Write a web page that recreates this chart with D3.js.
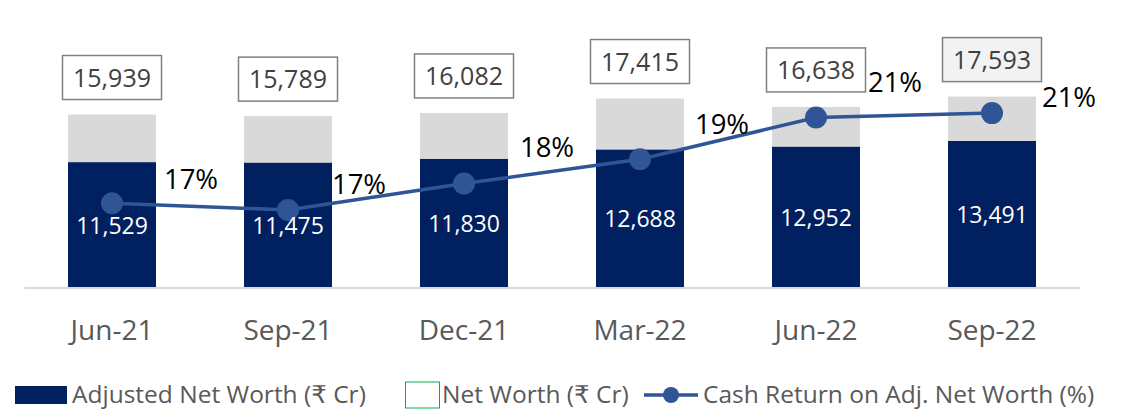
<!DOCTYPE html>
<html>
<head>
<meta charset="utf-8">
<script src="https://cdn.jsdelivr.net/npm/d3@7"></script>
<style>
  body { margin: 0; background: #fff; }
  svg { display: block; font-family: "Open Sans", "DejaVu Sans", sans-serif; }
</style>
</head>
<body>
<div id="vis"></div>
<script>
// chart data
var periods = ["Jun-21", "Sep-21", "Dec-21", "Mar-22", "Jun-22", "Sep-22"];
var adjNetWorth = [11529, 11475, 11830, 12688, 12952, 13491];
var netWorth = [15939, 15789, 16082, 17415, 16638, 17593];
var cashReturn = [17.2, 16.9, 18.1, 19.2, 21.1, 21.3];
var legendLabels = ["Adjusted Net Worth (\u20b9 Cr)", "Net Worth (\u20b9 Cr)", "Cash Return on Adj. Net Worth (%)"];

// hand placed % labels (offset from the point), like in the source
var pctNudge = [[79, -14], [71, -16], [83, -27], [82, -25], [79, -26], [77, -6]];

(function(){
  var width = 1122;
  var height = 413;
  var navy = "#002060", grey = "#d9d9d9", lineCol = "#2f5597";

  var svg = d3.select("#vis")
    .append("svg")
    .attr("width", width)
    .attr("height", height);

  var x = d3.scaleBand()
    .domain(periods)
    .range([24, 1080])
    .paddingInner(0.5)
    .paddingOuter(0.25);

  var y = d3.scaleLinear()
    .domain([0, 20000])
    .range([287, 287 - 20000 / 92.4]);

  // secondary axis (hidden) for the return line
  var y2 = d3.scaleLinear()
    .domain([10, 22])
    .range([361.7, 97.7]);

  var cx = function(i) { return x(periods[i]) + x.bandwidth() / 2; };

  // x axis
  var xAxis = d3.axisBottom(x).tickSize(0).tickSizeOuter(0);
  var gx = svg.append("g")
    .attr("transform", "translate(0,287.5)")
    .call(xAxis);
  gx.select(".domain").attr("stroke", grey).attr("stroke-width", 2);
  gx.selectAll("text")
    .attr("y", 52)
    .attr("dy", null)
    .attr("fill", "#595959")
    .style("font-size", "28px")
    .style("font-family", "'Open Sans', sans-serif");

  // bars: full net worth in grey, adjusted on top of it in navy
  svg.selectAll(".nw")
    .data(netWorth)
    .enter()
    .append("rect")
    .attr("class", "nw")
    .attr("x", function(d, i) { return x(periods[i]); })
    .attr("width", x.bandwidth())
    .attr("y", function(d) { return y(d); })
    .attr("height", function(d) { return y(0) - y(d); })
    .attr("fill", grey);

  svg.selectAll(".anw")
    .data(adjNetWorth)
    .enter()
    .append("rect")
    .attr("class", "anw")
    .attr("x", function(d, i) { return x(periods[i]); })
    .attr("width", x.bandwidth())
    .attr("y", function(d) { return y(d); })
    .attr("height", function(d) { return y(0) - y(d); })
    .attr("fill", navy);

  // return line
  var line = d3.line()
    .x(function(d, i) { return cx(i); })
    .y(function(d) { return y2(d); });

  svg.append("path")
    .datum(cashReturn)
    .attr("d", line)
    .attr("fill", "none")
    .attr("stroke", lineCol)
    .attr("stroke-width", 3.5);

  svg.selectAll(".dot")
    .data(cashReturn)
    .enter()
    .append("circle")
    .attr("class", "dot")
    .attr("cx", function(d, i) { return cx(i); })
    .attr("cy", function(d) { return y2(d); })
    .attr("r", 11)
    .attr("fill", lineCol);

  // boxed net worth labels
  var fmt = d3.format(",");
  var boxes = svg.selectAll(".box")
    .data(netWorth)
    .enter()
    .append("g")
    .attr("class", "box")
    .attr("transform", function(d, i) {
      return "translate(" + cx(i) + "," + (y(d) - 15 - 22) + ")";
    });
  boxes.append("rect")
    .attr("x", -49.5)
    .attr("y", -22)
    .attr("width", 99)
    .attr("height", 44)
    .attr("fill", function(d, i) { return i == netWorth.length - 1 ? "#f2f2f2" : "#fff"; })
    .attr("stroke", "#808080")
    .attr("stroke-width", 1.5);
  boxes.append("text")
    .attr("text-anchor", "middle")
    .attr("y", 9)
    .attr("fill", "#404040")
    .style("font-size", "25px")
    .text(function(d) { return fmt(d); });

  // adjusted net worth labels inside navy bars
  svg.selectAll(".inlbl")
    .data(adjNetWorth)
    .enter()
    .append("text")
    .attr("class", "inlbl")
    .attr("text-anchor", "middle")
    .attr("x", function(d, i) { return cx(i); })
    .attr("y", function(d) { return (y(d) + y(0)) / 2 + 9; })
    .attr("fill", "#fff")
    .style("font-size", "23px")
    .text(function(d) { return fmt(d); });

  // % labels
  svg.selectAll(".pct")
    .data(cashReturn)
    .enter()
    .append("text")
    .attr("class", "pct")
    .attr("text-anchor", "middle")
    .attr("x", function(d, i) { return cx(i) + pctNudge[i][0]; })
    .attr("y", function(d, i) { return y2(d) + pctNudge[i][1]; })
    .attr("fill", "#000")
    .style("font-size", "27.5px")
    .text(function(d) { return Math.round(d) + "%"; });

  // legend
  var lg = svg.append("g").attr("class", "legend");
  lg.append("rect")
    .attr("x", 15).attr("y", 386)
    .attr("width", 52).attr("height", 18)
    .attr("fill", navy);
  lg.append("text")
    .attr("x", 72).attr("y", 403)
    .text(legendLabels[0]);

  lg.append("rect")
    .attr("x", 405.5).attr("y", 382)
    .attr("width", 34).attr("height", 26)
    .attr("fill", "#fff")
    .attr("stroke", "#00b050")
    .attr("stroke-width", 1);
  lg.append("text")
    .attr("x", 442).attr("y", 403)
    .text(legendLabels[1]);

  lg.append("line")
    .attr("x1", 644).attr("x2", 698)
    .attr("y1", 395).attr("y2", 395)
    .attr("stroke", lineCol)
    .attr("stroke-width", 3.5);
  lg.append("circle")
    .attr("cx", 671).attr("cy", 395)
    .attr("r", 8)
    .attr("fill", lineCol);
  lg.append("text")
    .attr("x", 703).attr("y", 403)
    .text(legendLabels[2]);

  lg.selectAll("text")
    .attr("fill", "#595959")
    .style("font-size", "24.5px");
})();
</script>
</body>
</html>
